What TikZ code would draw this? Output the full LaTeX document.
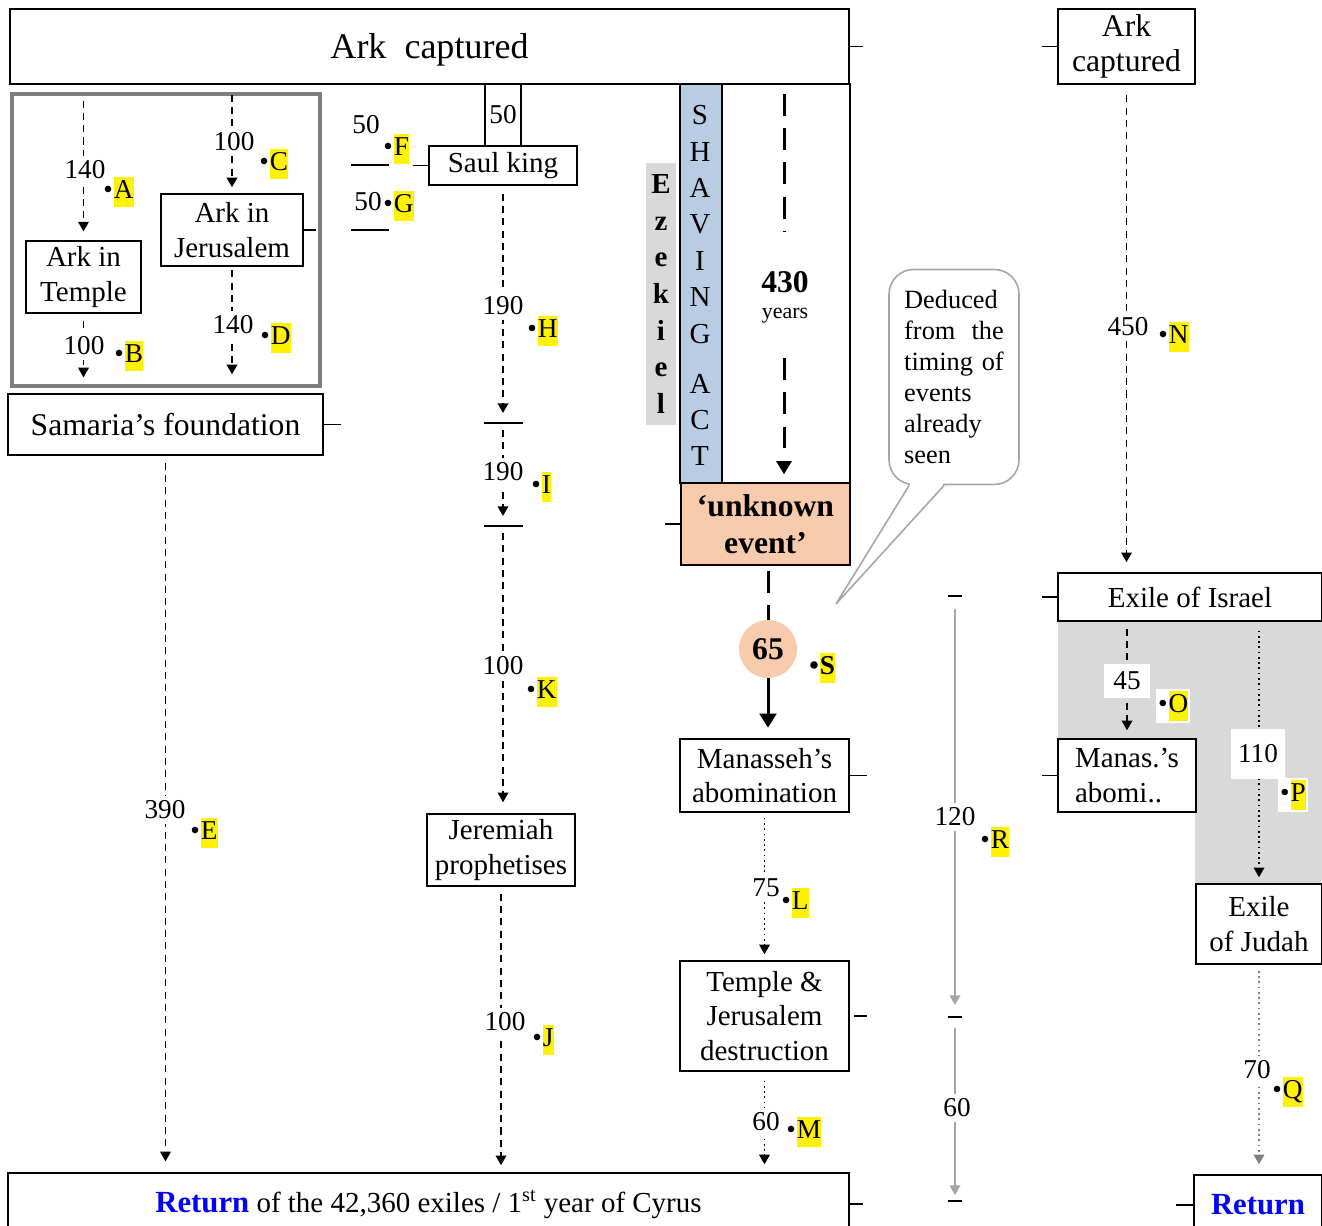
\documentclass[tikz,border=0pt]{standalone}
\usepackage{fontspec}
\setmainfont{Liberation Serif}
\usepackage{xcolor}
\usepackage{tikz}
\usetikzlibrary{arrows.meta, calc}
\definecolor{peach}{HTML}{F8CBAD}
\definecolor{shaveblue}{HTML}{B8CCE4}
\definecolor{greyfill}{HTML}{D9D9D9}
\definecolor{framegray}{HTML}{7F7F7F}
\definecolor{spangray}{HTML}{A6A6A6}
\definecolor{retblue}{HTML}{0000FF}
\newcommand{\boxfont}{\fontsize{16.5}{19.5}\selectfont}
\newcommand{\numfont}{\fontsize{15.5}{17.5}\selectfont}
\newcommand{\mk}[1]{\textbullet\hspace{0.6pt}\colorbox{yellow}{\strut #1}}
\setlength{\fboxsep}{0pt}

\begin{document}
\begin{tikzpicture}[x=0.02cm, y=-0.02cm,
    evbox/.style={draw, line width=0.9pt, fill=white, align=center, inner sep=0pt, font=\boxfont},
    num/.style={font=\numfont, fill=white, inner xsep=1pt, inner ysep=3pt},
    lett/.style={font=\numfont, inner sep=0pt, anchor=west},
    arr/.style={-{Triangle[length=5.5pt, width=6pt]}},
    dsh/.style={arr, line width=1pt, dash pattern=on 4pt off 3pt},
    dots/.style={arr, line width=1pt, dotted},
    bigdash/.style={line width=1.7pt, dash pattern=on 12.5pt off 7pt},
    greyspan/.style={arr, spangray, line width=1.1pt},
    edgetick/.style={line width=0.9pt},
]
    \useasboundingbox (0,0) rectangle (1322,1226);

    % === shading ===
    \fill[greyfill] (1058,621) -- (1322,621) -- (1322,884) -- (1195,884) -- (1195,812) -- (1058,812) -- cycle;
    \draw[framegray, line width=2.3pt] (12,94) rectangle (320,386);

    % === boxes ===
    \node[evbox, minimum width=16.78cm, minimum height=1.5cm, text depth=0pt, font=\fontsize{20.5}{24}\selectfont] (arktop) at (429.5,46.5) {Ark\ \ captured};
    \node[evbox, minimum width=2.74cm, minimum height=1.5cm, font=\fontsize{18}{20}\selectfont] (arkR) at (1126.5,46.5) {Ark\\captured};
    \node[evbox, minimum width=2.3cm, minimum height=1.44cm] (temple) at (83.5,277) {Ark in\\Temple};
    \node[evbox, minimum width=2.84cm, minimum height=1.44cm] (jerus) at (232,230) {Ark in\\Jerusalem};
    \node[evbox, minimum width=6.3cm, minimum height=1.22cm, font=\fontsize{18}{21}\selectfont] (samaria) at (165.5,424.5) {Samaria’s foundation};
    \node[evbox, minimum width=16.82cm, minimum height=1.24cm] (return) at (428.5,1204)
        {\textcolor{retblue}{\fontsize{17.5}{20}\selectfont\bfseries Return} of the 42,360 exiles / 1\textsuperscript{st} year of Cyrus};

    \node[evbox, font=\numfont, minimum width=0.72cm, minimum height=1.24cm] (fifty) at (503,115) {50};
    \node[evbox, minimum width=2.96cm, minimum height=0.78cm] (saul) at (503,165.5) {Saul king};
    \node[evbox, minimum width=2.96cm, minimum height=1.44cm] (jerem) at (501,850) {Jeremiah\\prophetises};

    \node[fill=greyfill, inner sep=0pt, minimum width=0.6cm, minimum height=5.24cm, align=center,
          font=\fontsize{16.5}{20.8}\selectfont\bfseries] (ezek) at (661,294) {E\\z\\e\\k\\i\\e\\l};
    \node[draw, line width=0.9pt, fill=shaveblue, minimum width=0.84cm, minimum height=7.98cm] (shave) at (701,283.5) {};
    \node[draw, line width=0.9pt, minimum width=2.56cm, minimum height=7.98cm] (span430) at (786,283.5) {};
    \node[align=center, inner sep=0pt, font=\fontsize{16.5}{20.7}\selectfont] (shv1) at (700,224.5) {S\\H\\A\\V\\I\\N\\G};
    \node[align=center, inner sep=0pt, font=\fontsize{16.5}{20.7}\selectfont] (shv2) at (700,420) {A\\C\\T};
    \node[font=\fontsize{18}{20}\selectfont\bfseries] (n430) at (785,282) {430};
    \node[font=\fontsize{12.5}{14}\selectfont] (yrs) at (785,316) {years};

    \node[evbox, fill=peach, font=\fontsize{18}{21}\selectfont\bfseries, minimum width=3.38cm, minimum height=1.64cm] (unknown) at (765.5,524) {‘unknown\\event’};
    \node[circle, fill=peach, minimum size=1.16cm, inner sep=0pt, font=\fontsize{18}{20}\selectfont\bfseries] (c65) at (768,649) {65};
    \node[evbox, minimum width=3.38cm, minimum height=1.46cm] (manasseh) at (764.5,775.5) {Manasseh’s\\abomination};
    \node[evbox, minimum width=3.38cm, minimum height=2.2cm] (templeD) at (764.5,1016) {Temple \&\\Jerusalem\\destruction};

    \node[evbox, minimum width=5.28cm, minimum height=0.96cm] (exileI) at (1190,597) {Exile of Israel};
    \node[evbox, align=left, minimum width=2.76cm, minimum height=1.46cm] (manas) at (1127,775.5) {Manas.’s\\abomi..};
    \node[evbox, minimum width=2.52cm, minimum height=1.6cm] (exileJ) at (1259,924) {Exile\\of Judah};
    \node[evbox, minimum width=2.56cm, minimum height=1.2cm, font=\fontsize{17.5}{20}\selectfont\bfseries\color{retblue}] (returnR) at (1258,1205) {Return};

    % === callout ===
    \node[draw=spangray, line width=0.9pt, rounded corners=14pt, fill=white, minimum width=2.6cm, minimum height=4.3cm,
          text width=56.7pt, align=left, font=\fontsize{15}{17.6}\selectfont] (note) at (954,377)
        {Deduced\\from\hfill the\\timing of\\events\\already\\seen};
    \coordinate (ptr) at (836,604);
    \fill[white] ($(note.south west)+(22,-4)$) rectangle ($(note.south west)+(55,4)$);
    \draw[spangray, line width=0.9pt] ($(note.south west)+(21,0)$) -- (ptr) -- ($(note.south west)+(56,0)$);

    % === edge ticks ===
    \draw[edgetick] (arktop.east) -- ++(13,0);
    \draw[edgetick] (arkR.west) -- ++(-15,0);
    \draw[edgetick] (jerus.east) -- ++(12,0);
    \draw[edgetick] (samaria.east) -- ++(17,0);
    \draw[edgetick] (saul.west) -- ++(-15,0);
    \draw[edgetick] (unknown.west) -- ++(-15,0);
    \draw[edgetick] (manasseh.east) -- ++(17,0);
    \draw[edgetick] ($(templeD.east)+(4,0)$) -- ++(13,0);
    \draw[edgetick] (return.east) -- ++(13,0);
    \draw[edgetick] (exileI.west) -- ++(-15,0);
    \draw[edgetick] (manas.west) -- ++(-15,0);
    \draw[edgetick] (returnR.west) -- ++(-17,0);
    \draw[edgetick] (351,165) -- (389,165);
    \draw[edgetick] (351,230) -- (389,230);

    % === left block ===
    \draw[dsh, shorten <=9pt, shorten >=5pt] (arktop.south -| temple.north) -- (temple.north);
    \draw[dsh, shorten <=4pt, shorten >=9pt] (temple.south) -- (temple.south |- samaria.north);
    \draw[dsh, shorten <=5.7pt, shorten >=3.4pt] (arktop.south -| jerus.north) -- (jerus.north);
    \draw[dsh, shorten <=2pt, shorten >=10.8pt] (jerus.south) -- (jerus.south |- samaria.north);
    \draw[dsh, shorten <=4pt, shorten >=6.2pt] (samaria.south) -- (samaria.south |- return.north);

    % === Saul column ===
    \coordinate (t1) at (503,423);
    \coordinate (t2) at (503,526);
    \draw[edgetick] (484,423) -- (523,423);
    \draw[edgetick] (484,526) -- (523,526);
    \draw[dsh, shorten <=4.5pt, shorten >=5.7pt] (saul.south) -- (t1);
    \draw[dsh, shorten <=4pt, shorten >=5.7pt] (t1) -- (t2);
    \draw[dsh, shorten <=4pt, shorten >=6.2pt] (t2) -- (t2 |- jerem.north);
    \draw[dsh, shorten <=4pt, shorten >=4pt] (jerem.south) -- (jerem.south |- return.north);

    % === 430 years / unknown event ===
    \coordinate (g430a) at (784,232);
    \coordinate (g430b) at (784,358);
    \draw[bigdash, shorten <=6pt] (span430.north -| g430a) -- (g430a);
    \draw[bigdash, -{Triangle[length=7.5pt, width=8.5pt]}, shorten >=4.5pt] (g430b) -- (g430b |- unknown.north);
    \draw[bigdash, shorten <=3pt] (c65.north |- unknown.south) -- (c65.north);
    \draw[line width=1.7pt, -{Triangle[length=8pt, width=9.5pt]}, shorten >=6pt] (c65.south) -- (c65.south |- manasseh.north);
    \draw[dots, shorten <=2.8pt, shorten >=3.4pt] (manasseh.south) -- (templeD.north);
    \draw[dots, shorten <=5pt, shorten >=4.5pt] (templeD.south) -- (templeD.south |- return.north);

    % === 120 / 60 span ===
    \coordinate (r1) at (955,596);
    \coordinate (r2) at (955,1017);
    \coordinate (r3) at (955,1201);
    \draw[edgetick] (948,596) -- (962,596);
    \draw[edgetick] (948,1017) -- (962,1017);
    \draw[edgetick] (948,1201) -- (962,1201);
    \draw[greyspan, shorten <=7.4pt, shorten >=6.8pt] (r1) -- (r2);
    \draw[greyspan, shorten <=6pt, shorten >=3.4pt] (r2) -- (r3);

    % === right column ===
    \draw[dsh, shorten <=6pt, shorten >=5.7pt] (arkR.south) -- (arkR.south |- exileI.north);
    \draw[dsh, shorten <=4pt, shorten >=4.5pt] (exileI.south -| manas.north) -- (manas.north);
    \draw[dots, shorten <=5pt, shorten >=3.4pt] (exileI.south -| exileJ.north) -- (exileJ.north);
    \draw[dots, framegray, shorten <=3.4pt, shorten >=5.7pt] (exileJ.south) -- (exileJ.south |- returnR.north);

    % === numbers ===
    \node[num] (n140a) at (85,170) {140};
    \node[num] (n100b) at (84,346) {100};
    \node[num] (n100c) at (234,142) {100};
    \node[num] (n140d) at (233,325) {140};
    \node[num] (n390) at (165,810) {390};
    \node[num] (n50f) at (366,125) {50};
    \node[num] (n50g) at (368,202) {50};
    \node[num] (n190h) at (503,306) {190};
    \node[num] (n190i) at (503,472) {190};
    \node[num] (n100k) at (503,666) {100};
    \node[num] (n100j) at (505,1022) {100};
    \node[num] (n75) at (766,888) {75};
    \node[num] (n60m) at (766,1122) {60};
    \node[num] (n120) at (955,817) {120};
    \node[num] (n60r) at (957,1108) {60};
    \node[num] (n450) at (1128,327) {450};
    \node[num, minimum width=0.92cm, minimum height=0.68cm] (n45) at (1127,681) {45};
    \node[num, minimum width=1.08cm, minimum height=1cm] (n110) at (1258,754) {110};
    \node[num] (n70) at (1257,1070) {70};

    % === letters ===
    \node[lett] (lA) at (103,192) {\mk{A}};
    \node[lett] (lB) at (114,356) {\mk{B}};
    \node[lett] (lC) at (259,164) {\mk{C}};
    \node[lett] (lD) at (260,338) {\mk{D}};
    \node[lett] (lE) at (190,833) {\mk{E}};
    \node[lett] (lF) at (383,149) {\mk{F}};
    \node[lett] (lG) at (383,206) {\mk{G}};
    \node[lett] (lH) at (527,331) {\mk{H}};
    \node[lett] (lI) at (531,487) {\mk{I}};
    \node[lett] (lK) at (526,692) {\mk{K}};
    \node[lett] (lJ) at (532,1040) {\mk{J}};
    \node[lett] (lL) at (781,903) {\mk{L}};
    \node[lett] (lM) at (786,1132) {\mk{M}};
    \node[lett] (lR) at (980,842) {\mk{R}};
    \node[lett, font=\numfont\bfseries] (lS) at (809,668) {\mk{S}};
    \node[lett] (lN) at (1158,337) {\mk{N}};
    \node[lett, fill=white, inner sep=1pt] (lO) at (1156,706) {\mk{O}};
    \node[lett, fill=white, inner sep=1pt] (lP) at (1278,795) {\mk{P}};
    \node[lett] (lQ) at (1272,1092) {\mk{Q}};
\end{tikzpicture}
\end{document}
